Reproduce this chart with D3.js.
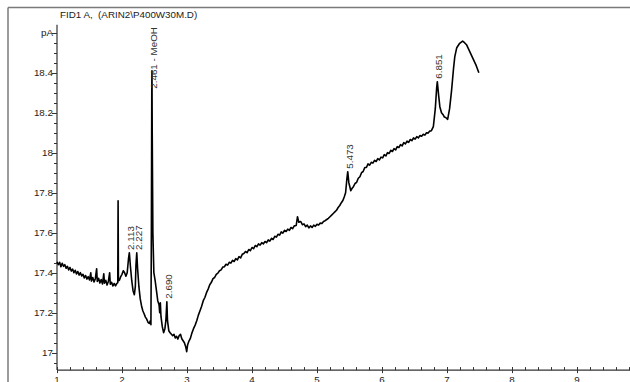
<!DOCTYPE html>
<html>
<head>
<meta charset="utf-8">
<script src="https://cdn.jsdelivr.net/npm/d3@7"></script>
<style>
  html, body { margin: 0; padding: 0; background: #fff; }
  svg { display: block; }
  text { font-family: "Liberation Sans", Arial, sans-serif; fill: #1a1a1a; }
</style>
</head>
<body>
<div id="chart"></div>
<script>
// chromatogram trace, [retention time (min), signal (pA)]
const trace = [
  [1.00, 17.455], [1.02, 17.44], [1.04, 17.452], [1.06, 17.43], [1.08, 17.447], [1.10, 17.432],
  [1.12, 17.44], [1.14, 17.422], [1.16, 17.432], [1.18, 17.414], [1.20, 17.426], [1.22, 17.408],
  [1.24, 17.418], [1.26, 17.40], [1.28, 17.412], [1.30, 17.394], [1.32, 17.406], [1.34, 17.388],
  [1.36, 17.40], [1.38, 17.384], [1.40, 17.392], [1.42, 17.374], [1.44, 17.386], [1.46, 17.368],
  [1.48, 17.38], [1.50, 17.364], [1.52, 17.40], [1.53, 17.358], [1.55, 17.376], [1.57, 17.354],
  [1.59, 17.37], [1.61, 17.42], [1.62, 17.356], [1.64, 17.372], [1.66, 17.348], [1.68, 17.366],
  [1.70, 17.344], [1.72, 17.395], [1.73, 17.348], [1.75, 17.362], [1.77, 17.338], [1.79, 17.356],
  [1.81, 17.40], [1.82, 17.342], [1.84, 17.352], [1.86, 17.334], [1.88, 17.346], [1.90, 17.334],
  [1.92, 17.346], [1.935, 17.35], [1.94, 17.76], [1.945, 17.36], [1.96, 17.362], [1.98, 17.38],
  [2.00, 17.392], [2.02, 17.41], [2.04, 17.40], [2.06, 17.382], [2.08, 17.40], [2.10, 17.47],
  [2.113, 17.50], [2.13, 17.43], [2.15, 17.36], [2.17, 17.31], [2.19, 17.29], [2.205, 17.33],
  [2.215, 17.44], [2.227, 17.50], [2.24, 17.42], [2.26, 17.33], [2.28, 17.27], [2.30, 17.235],
  [2.32, 17.21], [2.34, 17.195], [2.36, 17.178], [2.38, 17.168], [2.40, 17.152], [2.42, 17.146],
  [2.435, 17.16], [2.445, 17.14], [2.452, 17.60], [2.458, 18.30], [2.461, 18.41], [2.465, 18.10],
  [2.475, 17.60], [2.49, 17.40], [2.51, 17.36], [2.53, 17.31], [2.55, 17.26], [2.57, 17.24],
  [2.58, 17.20], [2.59, 17.25], [2.60, 17.18], [2.62, 17.13], [2.64, 17.10], [2.66, 17.12],
  [2.675, 17.16], [2.69, 17.255], [2.70, 17.16], [2.72, 17.11], [2.74, 17.10], [2.76, 17.092],
  [2.78, 17.085], [2.80, 17.092], [2.82, 17.074], [2.84, 17.082], [2.86, 17.068], [2.88, 17.086],
  [2.90, 17.092], [2.92, 17.07], [2.94, 17.06], [2.96, 17.05], [2.98, 17.03], [2.995, 17.005],
  [3.01, 17.04], [3.03, 17.058], [3.05, 17.07], [3.075, 17.098], [3.10, 17.12], [3.125, 17.138],
  [3.15, 17.16], [3.175, 17.188], [3.20, 17.21], [3.225, 17.232], [3.25, 17.26], [3.275, 17.276],
  [3.30, 17.30], [3.325, 17.318], [3.35, 17.34], [3.375, 17.352], [3.40, 17.37], [3.425, 17.376],
  [3.45, 17.392], [3.475, 17.398], [3.50, 17.41], [3.525, 17.414], [3.55, 17.428], [3.575, 17.43],
  [3.60, 17.442], [3.625, 17.438], [3.65, 17.452], [3.675, 17.448], [3.70, 17.462], [3.725, 17.456],
  [3.75, 17.47], [3.775, 17.464], [3.80, 17.48], [3.825, 17.474], [3.85, 17.492], [3.875, 17.496],
  [3.90, 17.506], [3.925, 17.5], [3.95, 17.516], [3.975, 17.51], [4.00, 17.526], [4.025, 17.52],
  [4.05, 17.536], [4.075, 17.53], [4.10, 17.544], [4.125, 17.538], [4.15, 17.55], [4.175, 17.544],
  [4.20, 17.556], [4.225, 17.55], [4.25, 17.564], [4.275, 17.558], [4.30, 17.572], [4.325, 17.566],
  [4.35, 17.582], [4.375, 17.578], [4.40, 17.592], [4.425, 17.588], [4.45, 17.604], [4.475, 17.598],
  [4.50, 17.612], [4.525, 17.606], [4.55, 17.618], [4.575, 17.612], [4.60, 17.626], [4.625, 17.62],
  [4.65, 17.634], [4.68, 17.636], [4.70, 17.68], [4.72, 17.652], [4.75, 17.656], [4.775, 17.64],
  [4.80, 17.644], [4.825, 17.63], [4.85, 17.638], [4.875, 17.624], [4.90, 17.634], [4.925, 17.626],
  [4.95, 17.638], [4.975, 17.632], [5.00, 17.642], [5.025, 17.638], [5.05, 17.648], [5.075, 17.646],
  [5.10, 17.656], [5.125, 17.66], [5.15, 17.666], [5.175, 17.672], [5.20, 17.68], [5.225, 17.688],
  [5.25, 17.696], [5.275, 17.704], [5.30, 17.712], [5.325, 17.726], [5.35, 17.736], [5.375, 17.75],
  [5.40, 17.762], [5.42, 17.78], [5.44, 17.80], [5.46, 17.87], [5.473, 17.905], [5.49, 17.85],
  [5.52, 17.81], [5.54, 17.822], [5.56, 17.83], [5.585, 17.846], [5.61, 17.852], [5.635, 17.872],
  [5.66, 17.88], [5.685, 17.9], [5.71, 17.906], [5.735, 17.926], [5.76, 17.926], [5.785, 17.944],
  [5.81, 17.938], [5.835, 17.952], [5.86, 17.948], [5.885, 17.962], [5.91, 17.956], [5.935, 17.97],
  [5.96, 17.964], [5.985, 17.978], [6.01, 17.974], [6.035, 17.99], [6.06, 17.984], [6.085, 18.0],
  [6.11, 17.996], [6.135, 18.012], [6.16, 18.006], [6.185, 18.02], [6.21, 18.014], [6.235, 18.03],
  [6.26, 18.026], [6.285, 18.04], [6.31, 18.034], [6.335, 18.05], [6.36, 18.044], [6.385, 18.058],
  [6.41, 18.052], [6.435, 18.066], [6.46, 18.06], [6.485, 18.074], [6.51, 18.068], [6.535, 18.08],
  [6.56, 18.074], [6.585, 18.086], [6.61, 18.082], [6.635, 18.092], [6.66, 18.088], [6.685, 18.1],
  [6.71, 18.098], [6.735, 18.108], [6.76, 18.11], [6.79, 18.13], [6.82, 18.22], [6.84, 18.32],
  [6.851, 18.355], [6.87, 18.29], [6.89, 18.23], [6.915, 18.2], [6.94, 18.19], [6.96, 18.178],
  [6.98, 18.176], [7.01, 18.167], [7.04, 18.22], [7.07, 18.31], [7.10, 18.42], [7.12, 18.48],
  [7.15, 18.525], [7.19, 18.545], [7.215, 18.552], [7.24, 18.558], [7.27, 18.55], [7.30, 18.54],
  [7.35, 18.505], [7.40, 18.47], [7.45, 18.435], [7.49, 18.40]
];

// integrated peak labels: [time, label, pA value where the label starts]
const peakLabels = [
  [2.113, "2.113", 17.514],
  [2.227, "2.227", 17.514],
  [2.461, "2.461 - MeOH", 18.32],
  [2.690, "2.690", 17.27],
  [5.473, "5.473", 17.92],
  [6.851, "6.851", 18.37]
];

const xTicks = [1, 2, 3, 4, 5, 6, 7, 8, 9, 10];
const yTicks = [17, 17.2, 17.4, 17.6, 17.8, 18, 18.2, 18.4, 18.6];
const yUnit = "pA";
const title = "FID1 A,  (ARIN2\\P400W30M.D)";

const W = 630, H = 382;

const svg = d3.select("#chart").append("svg")
  .attr("width", W)
  .attr("height", H);

const x = d3.scaleLinear().domain([1, 10]).range([57, 642]);
const y = d3.scaleLinear().domain([17, 18]).range([352.7, 152.7]);

// outer frame (only left and top edges are visible)
svg.append("line")
  .attr("x1", 8).attr("x2", 8).attr("y1", 7.5).attr("y2", H)
  .attr("stroke", "#7a7a7a").attr("stroke-width", 1.5);
svg.append("line")
  .attr("x1", 8).attr("x2", W).attr("y1", 7.5).attr("y2", 7.5)
  .attr("stroke", "#7a7a7a").attr("stroke-width", 1.5);

svg.append("text")
  .attr("x", 60)
  .attr("y", 18)
  .style("font-size", "9.8px")
  .style("white-space", "pre")
  .text(title);

// y axis
const yAxisX = x(1);
const yBottom = 16.913, yTop = 18.64;
const yAx = svg.append("g");
yAx.append("line")
  .attr("x1", yAxisX).attr("x2", yAxisX)
  .attr("y1", y(yBottom)).attr("y2", y(yTop))
  .attr("stroke", "#333").attr("stroke-width", 1.2);

const yMinor = d3.range(16.95, 18.6001, 0.05);
yAx.selectAll(".ymin")
  .data(yMinor)
  .enter().append("line")
  .attr("x1", yAxisX - 3).attr("x2", yAxisX)
  .attr("y1", d => Math.round(y(d)) + 0.5).attr("y2", d => Math.round(y(d)) + 0.5)
  .attr("stroke", "#333");

yAx.selectAll(".ymaj")
  .data(yTicks)
  .enter().append("line")
  .attr("x1", yAxisX - 5).attr("x2", yAxisX)
  .attr("y1", d => Math.round(y(d)) + 0.5).attr("y2", d => Math.round(y(d)) + 0.5)
  .attr("stroke", "#333");

yAx.selectAll(".ylab")
  .data(yTicks)
  .enter().append("text")
  .attr("x", yAxisX - 4)
  .attr("y", d => y(d))
  .attr("dy", "0.35em")
  .attr("text-anchor", "end")
  .style("font-size", "9.8px")
  .text((d, i) => i === yTicks.length - 1 ? yUnit : d3.format("~g")(d));

// x axis
const xAxisY = y(yBottom);
const xAx = svg.append("g");
xAx.append("line")
  .attr("x1", x(1)).attr("x2", W)
  .attr("y1", xAxisY).attr("y2", xAxisY)
  .attr("stroke", "#333").attr("stroke-width", 1.2);

const xMinor = d3.range(1, 10.001, 0.2);
xAx.selectAll(".xmin")
  .data(xMinor)
  .enter().append("line")
  .attr("x1", d => Math.round(x(d)) + 0.5).attr("x2", d => Math.round(x(d)) + 0.5)
  .attr("y1", xAxisY - 3).attr("y2", xAxisY)
  .attr("stroke", "#333");

xAx.selectAll(".xmaj")
  .data(xTicks)
  .enter().append("line")
  .attr("x1", d => Math.round(x(d)) + 0.5).attr("x2", d => Math.round(x(d)) + 0.5)
  .attr("y1", xAxisY - 3).attr("y2", xAxisY + 3)
  .attr("stroke", "#333");

xAx.selectAll(".xlab")
  .data(xTicks)
  .enter().append("text")
  .attr("x", d => x(d))
  .attr("y", xAxisY + 13)
  .attr("text-anchor", "middle")
  .style("font-size", "9.8px")
  .text(d => d);

// signal
const line = d3.line()
  .x(d => x(d[0]))
  .y(d => y(d[1]));

svg.append("path")
  .datum(trace)
  .attr("d", line)
  .attr("fill", "none")
  .attr("stroke", "#000")
  .attr("stroke-width", 1.6)
  .attr("stroke-linejoin", "round");

// peak labels
svg.selectAll(".peak")
  .data(peakLabels)
  .enter().append("text")
  .attr("transform", d => `translate(${x(d[0]) + 1.5},${y(d[2])}) rotate(-90)`)
  .attr("dy", "0.35em")
  .style("font-size", "9.8px")
  .style("fill", "#333")
  .text(d => d[1]);
</script>
</body>
</html>
